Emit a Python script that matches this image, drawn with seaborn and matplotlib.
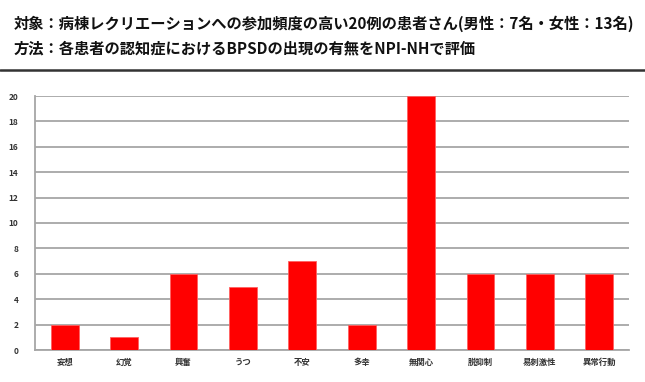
import matplotlib
matplotlib.use('Agg')
import matplotlib.pyplot as plt
import seaborn as sns
import pandas as pd

# BPSD symptoms and number of patients
symptoms = ['妄想', '幻覚', '興奮', 'うつ', '不安', '多幸', '無関心', '脱抑制', '易刺激性', '異常行動']
counts = [2, 1, 6, 5, 7, 2, 20, 6, 6, 6]
y_ticks = [0, 2, 4, 6, 8, 10, 12, 14, 16, 18, 20]

title_1 = '対象：病棟レクリエーションへの参加頻度の高い20例の患者さん(男性：7名・女性：13名)'
title_2 = '方法：各患者の認知症におけるBPSDの出現の有無をNPI-NHで評価'

df = pd.DataFrame({'symptom': symptoms, 'count': counts})

sns.set_style('white')
plt.rcParams['font.family'] = ['Noto Sans CJK JP', 'DejaVu Sans']

fig = plt.figure(figsize=(6.45, 3.82), dpi=100)
ax = fig.add_axes([35 / 645, 1 - 350 / 382, (629 - 35) / 645, (350 - 96) / 382])

sns.barplot(data=df, x='symptom', y='count', color='#ff0000', saturation=1,
            width=0.47, edgecolor='#ff6060', linewidth=0.6, ax=ax, zorder=3)

ax.set_ylim(0, 20)
ax.set_yticks(y_ticks)
ax.yaxis.grid(True, color='#a6a6a6', linewidth=1.3, zorder=0)
ax.set_axisbelow(True)
ax.set_xlabel('')
ax.set_ylabel('')
for s in ['top', 'right']:
    ax.spines[s].set_visible(False)
ax.spines['left'].set_color('#a6a6a6')
ax.spines['bottom'].set_color('#a6a6a6')
ax.spines['left'].set_linewidth(1.3)
ax.spines['bottom'].set_linewidth(1.3)
ax.tick_params(axis='both', length=0, labelsize=6, colors='#333333')
ax.tick_params(axis='y', pad=12)
ax.tick_params(axis='x', pad=6)
for lbl in ax.get_xticklabels() + ax.get_yticklabels():
    lbl.set_fontweight('bold')

fig.text(14 / 645, 1 - 24 / 382, title_1, fontsize=11, fontweight='bold', va='center', ha='left', color='#111111')
fig.text(14 / 645, 1 - 48 / 382, title_2, fontsize=11, fontweight='bold', va='center', ha='left', color='#111111')
fig.add_artist(plt.Line2D([0, 1], [1 - 70 / 382, 1 - 70 / 382], color='#333333', linewidth=1.8))

fig.savefig('out.png', dpi=100, facecolor='white')
